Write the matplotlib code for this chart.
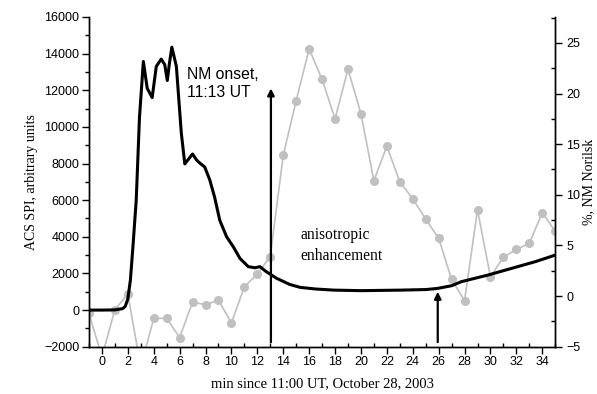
import matplotlib
matplotlib.use('Agg')
import matplotlib.pyplot as plt
from matplotlib.ticker import MultipleLocator

# ACS SPI curve
spi_t = [-1, 0, 1, 1.6, 1.8, 2.0, 2.2, 2.4, 2.65, 2.9, 3.2, 3.5, 3.88, 4.2, 4.58, 4.85, 5.05, 5.2, 5.4,
         5.75, 6.13, 6.4, 6.7, 7.0, 7.3, 7.55, 7.94, 8.33, 8.7, 9.1, 9.63, 10.14, 10.66, 11.3, 11.82,
         12.2, 12.7, 13.5, 14.5, 15.3, 16.5, 17.9, 20, 23.1, 25.0, 25.9, 27.0, 27.75, 29.8, 32.1, 33.5, 35]
spi_v = [0, 0, 10, 80, 200, 600, 1640, 3500, 6000, 10500, 13570, 12100, 11600, 13300, 13700, 13400, 12530, 13400, 14350,
         13300, 9670, 7980, 8250, 8520, 8200, 8030, 7810, 7100, 6170, 4900, 4000, 3460, 2820, 2370, 2310,
         2370, 2090, 1730, 1400, 1240, 1150, 1090, 1060, 1090, 1120, 1180, 1330, 1550, 1910, 2370, 2650, 3000]

# NM Norilsk, % (one point per minute)
nm_t = list(range(-1, 36))
nm_v = [-1.7, -6.0, -1.35, 0.2, -7.0, -2.2, -2.2, -4.1, -0.6, -0.85, -0.4, -2.65, 0.9, 2.2, 3.9,
        13.9, 19.3, 24.4, 21.4, 17.5, 22.4, 18.0, 11.4, 14.8, 11.3, 9.6, 7.6, 5.7, 1.65, -0.45,
        8.5, 1.9, 3.85, 4.6, 5.2, 8.25, 6.4]

fig = plt.figure(figsize=(5.97, 3.94), dpi=100)
ax = fig.add_axes([0.149, 0.12, 0.781, 0.837])
ax2 = ax.twinx()

ax2.plot(nm_t, nm_v, color='#c0c0c0', lw=1.2, marker='o', ms=5.5, mec='#c0c0c0', mfc='#c0c0c0', zorder=1)
ax2.set_ylim(-5, 27.56)
ax.set_zorder(ax2.get_zorder() + 1)
ax.patch.set_visible(False)

ax.plot(spi_t, spi_v, color='black', lw=2.2, solid_joinstyle='round')
ax.set_xlim(-1, 35)
ax.set_ylim(-2000, 16000)

# arrows
ax.annotate('', xy=(13.05, 12100), xytext=(13.05, -1750),
            arrowprops=dict(arrowstyle='-|>', color='black', lw=1.6, mutation_scale=10, shrinkA=0, shrinkB=0))
ax.annotate('', xy=(25.93, 1000), xytext=(25.93, -1750),
            arrowprops=dict(arrowstyle='-|>', color='black', lw=1.6, mutation_scale=10, shrinkA=0, shrinkB=0))

ax.text(6.6, 13250, 'NM onset,\n11:13 UT', fontsize=11.3, family='Liberation Sans',
        va='top', ha='left', linespacing=1.25)
ax.text(15.3, 4550, 'anisotropic\nenhancement', fontsize=11.2, family='Liberation Serif',
        va='top', ha='left', linespacing=1.45)

ax.set_xticks(range(0, 35, 2))
ax.xaxis.set_minor_locator(MultipleLocator(1))
ax.yaxis.set_major_locator(MultipleLocator(2000))
ax.yaxis.set_minor_locator(MultipleLocator(1000))
ax2.yaxis.set_major_locator(MultipleLocator(5))
ax2.yaxis.set_minor_locator(MultipleLocator(2.5))

for a in (ax, ax2):
    for lab in a.get_xticklabels() + a.get_yticklabels():
        lab.set_family('Liberation Sans')
        lab.set_fontsize(9)
    for s in a.spines.values():
        s.set_linewidth(1.0)

ax.spines['top'].set_visible(False)
ax2.spines['top'].set_visible(False)
ax.tick_params(axis='x', which='major', direction='out', length=5, width=1, pad=2)
ax.tick_params(axis='x', which='minor', direction='in', length=3, width=1)
ax.tick_params(axis='y', which='major', direction='out', length=5, width=1, pad=2)
ax.tick_params(axis='y', which='minor', direction='out', length=3, width=1)
ax2.tick_params(axis='y', which='major', direction='out', length=5, width=1, pad=3)
ax2.tick_params(axis='y', which='minor', direction='in', length=3, width=1)

ax.set_xlabel('min since 11:00 UT, October 28, 2003', family='Liberation Serif', fontsize=10.5, labelpad=6)
ax.set_ylabel('ACS SPI, arbitrary units', family='Liberation Serif', fontsize=10, labelpad=4)
ax2.set_ylabel('%, NM Norilsk', family='Liberation Serif', fontsize=10, labelpad=1)

fig.savefig('out.png', dpi=100)
